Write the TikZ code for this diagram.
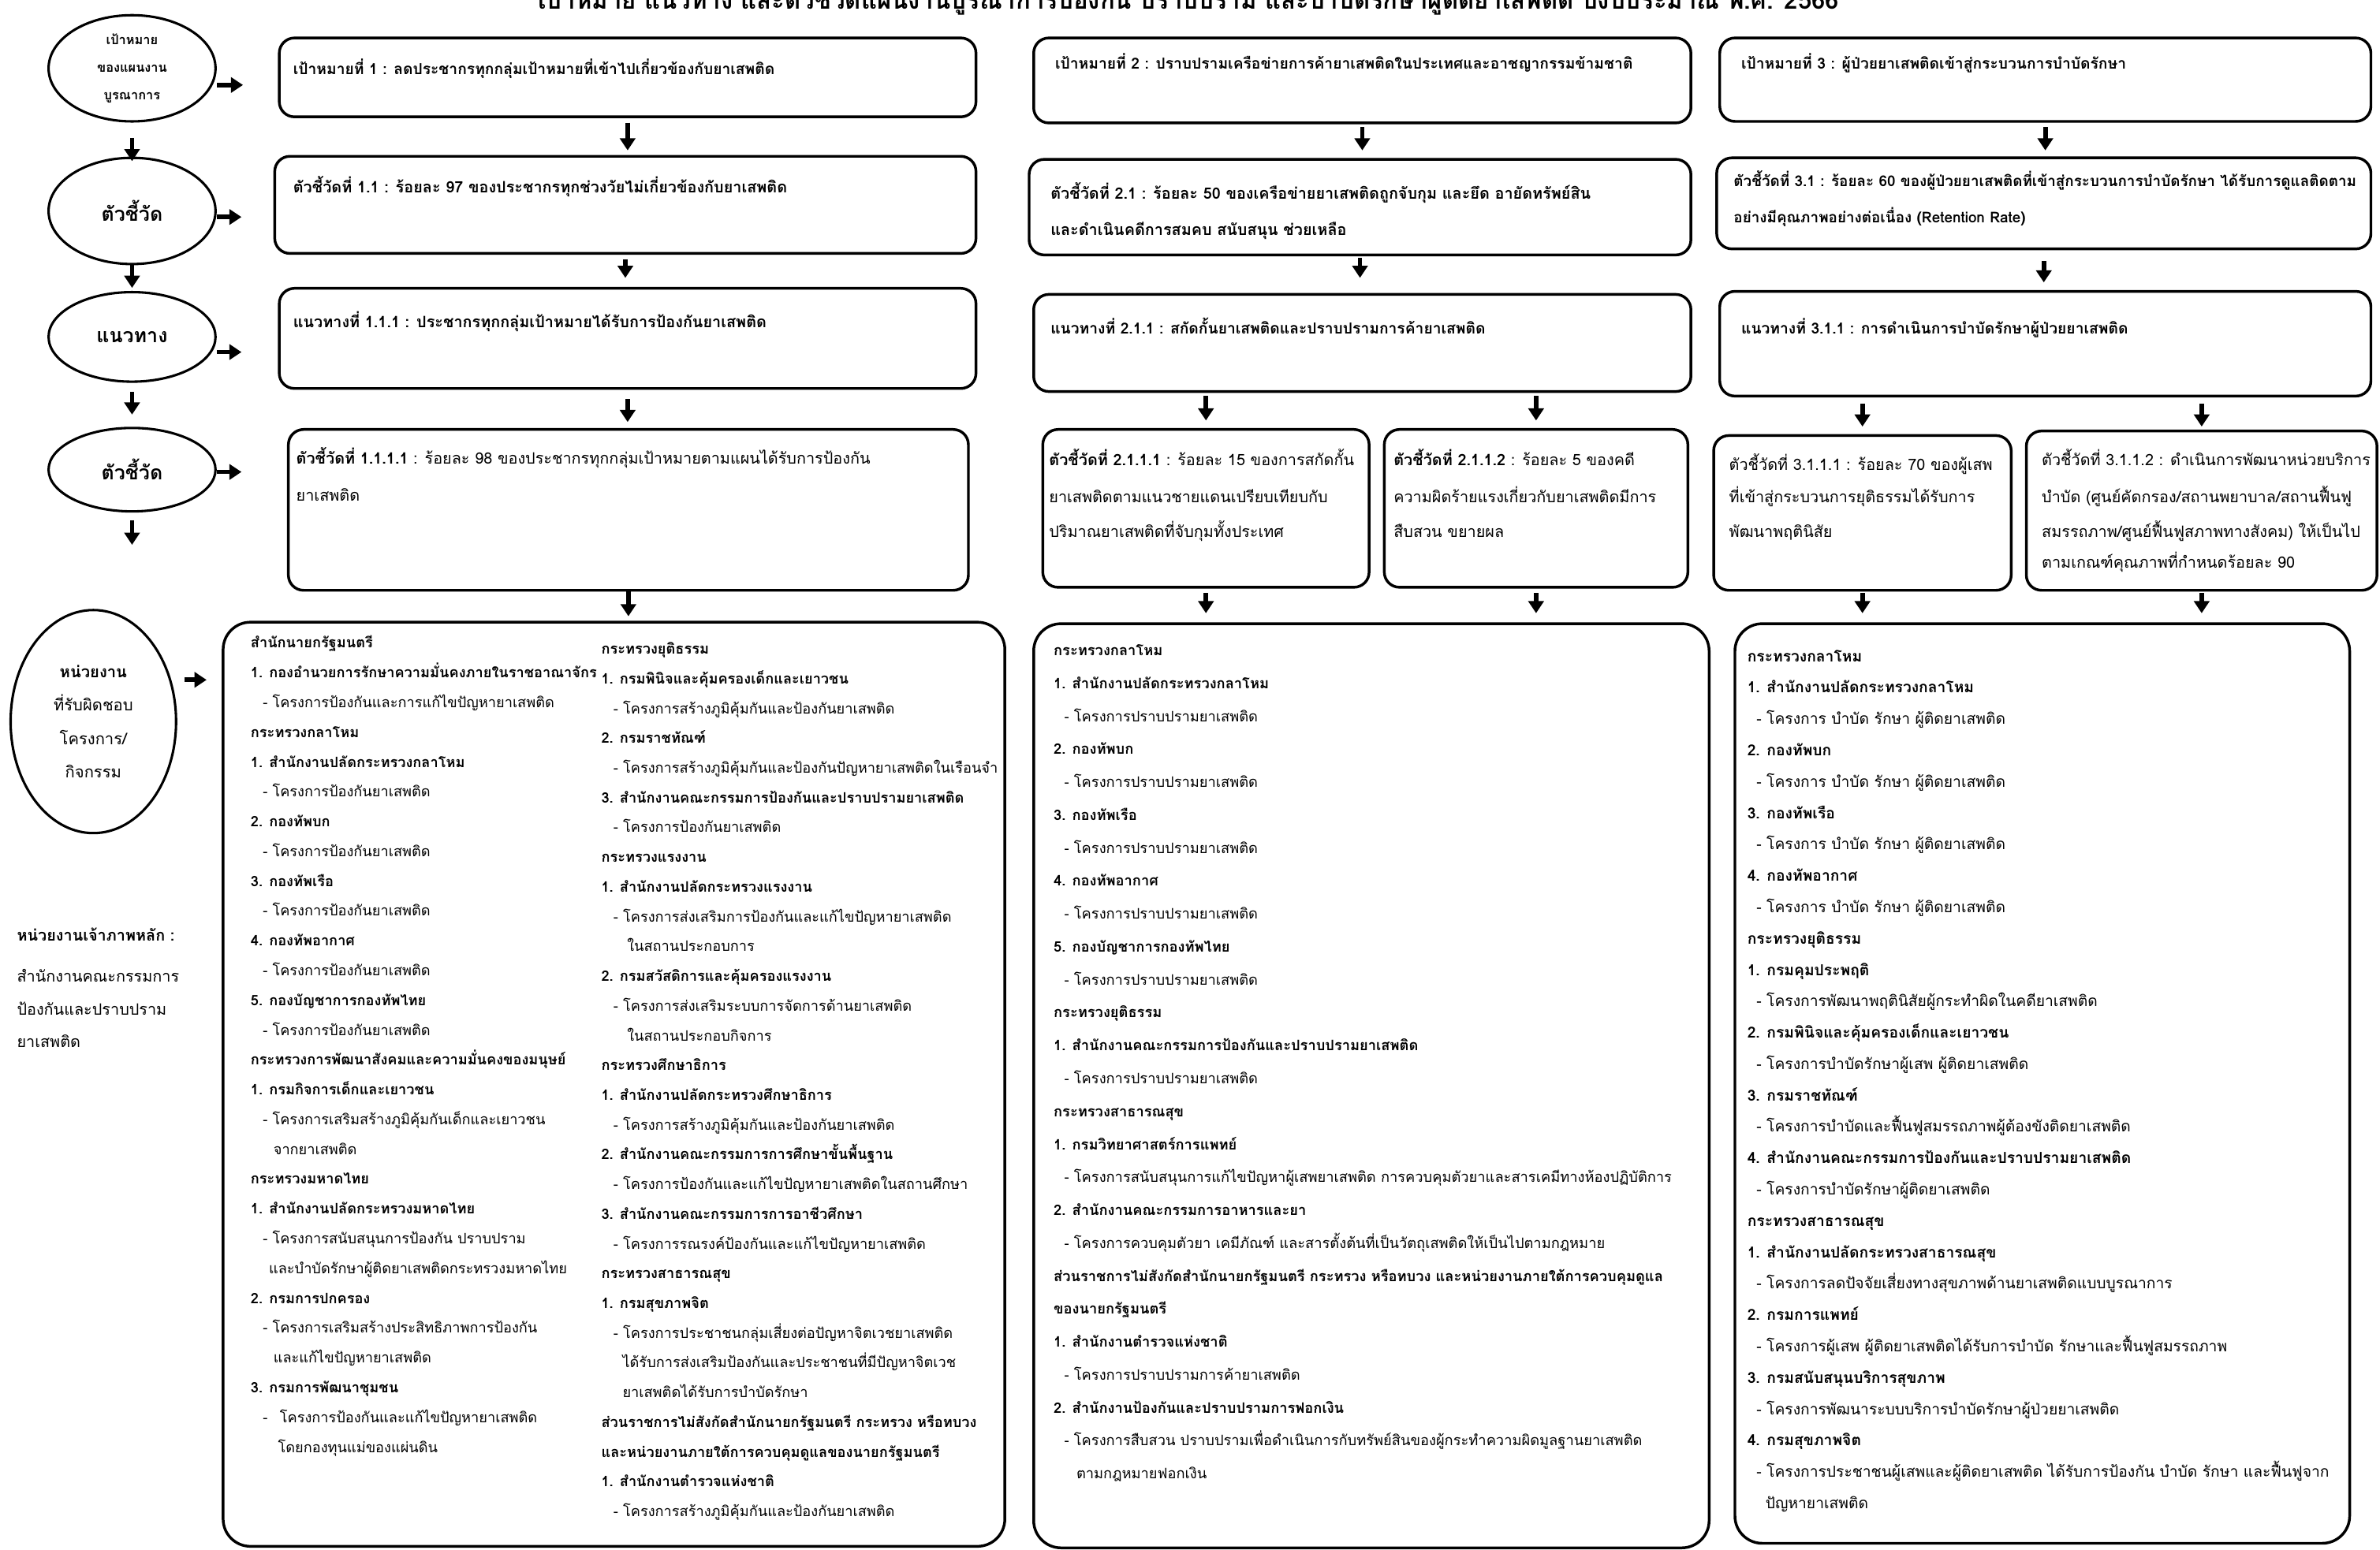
\documentclass[tikz,border=0pt]{standalone}
\usepackage{fontspec}
\usepackage{graphicx}
\setmainfont{Loma}[Script=Thai]
\usetikzlibrary{shapes.geometric,arrows.meta,calc}

\tikzset{
  topbox/.style={draw, line width=1.8pt, rounded corners=10pt, inner sep=0pt},
  panel/.style={draw, line width=1.8pt, rounded corners=18pt, inner sep=0pt},
  oval/.style={draw, ellipse, line width=1.6pt, inner sep=0pt, align=center},
  arr/.style={-{Triangle[length=8pt,width=10pt]}, line width=3pt},
  txt/.style={anchor=base west, inner sep=0pt, font=\fontsize{10}{12}\selectfont},
  txtl/.style={txt, font=\fontsize{10.3}{12}\selectfont},
  ln/.style={anchor=base west, inner sep=0pt},
}

\begin{document}
\begin{tikzpicture}[x=1pt,y=-1pt]
\useasboundingbox (0,0) rectangle (1568,1021);

% title, cut by the top edge
\node[anchor=base, inner sep=0pt] (title) at (783,6) {\resizebox{857pt}{!}{\bfseries เป้าหมาย แนวทาง และตัวชี้วัดแผนงานบูรณาการป้องกัน ปราบปราม และบำบัดรักษาผู้ติดยาเสพติด ปีงบประมาณ พ.ศ. 2566}};

% left column
\node[oval, minimum width=110pt, minimum height=70pt, font=\fontsize{8.5}{18}\selectfont\bfseries] (ovGoal) at (87,45) {เป้าหมาย\\ของแผนงาน\\บูรณาการ};
\node[oval, minimum width=110pt, minimum height=70pt, font=\fontsize{13}{15}\selectfont\bfseries] (ovInd) at (87,139) {ตัวชี้วัด};
\node[oval, minimum width=110pt, minimum height=59pt, font=\fontsize{13}{15}\selectfont\bfseries] (ovPath) at (87,222) {แนวทาง};
\node[oval, minimum width=110pt, minimum height=55pt, font=\fontsize{13}{15}\selectfont\bfseries] (ovSub) at (87,309.5) {ตัวชี้วัด};
\node[oval, minimum width=109pt, minimum height=147pt, font=\fontsize{10.5}{22}\selectfont] (ovUnit) at (61.5,475.5) {\textbf{หน่วยงาน}\\ที่รับผิดชอบ\\โครงการ/\\กิจกรรม};
\coordinate (ovSubEnd) at (87,359);

\node[txt, font=\fontsize{10.3}{12}\selectfont\bfseries] (host1) at (11,620) {หน่วยงานเจ้าภาพหลัก :};
\node[txtl] (host2) at (11,647) {สำนักงานคณะกรรมการ};
\node[txtl] (host3) at (11,669) {ป้องกันและปราบปราม};
\node[txtl] (host4) at (11,690) {ยาเสพติด};

\draw[arr, shorten <=10pt, shorten >=-3pt] (ovGoal) -- (ovInd);
\draw[arr, shorten >=2pt] (ovInd) -- (ovPath);
\draw[arr, shorten <=6pt, shorten >=8pt] (ovPath) -- (ovSub);
\draw[arr, shorten <=5pt] (ovSub) -- (ovSubEnd);

% goal 1
\node[topbox, minimum width=459pt, minimum height=52pt] (goal1) at (413.5,51) {};
\node[topbox, minimum width=462pt, minimum height=64pt] (ind11) at (412,135) {};
\node[topbox, minimum width=459pt, minimum height=66pt] (path111) at (413.5,223) {};
\node[topbox, minimum width=448pt, minimum height=106pt] (ind1111) at (414,336) {};

\node[txt] (goal1t) at (193,49) {\textbf{เป้าหมายที่ 1 : ลดประชากรทุกกลุ่มเป้าหมายที่เข้าไปเกี่ยวข้องกับยาเสพติด}};
\node[txtl] (ind11t) at (193,127) {\textbf{ตัวชี้วัดที่ 1.1 : ร้อยละ 97 ของประชากรทุกช่วงวัยไม่เกี่ยวข้องกับยาเสพติด}};
\node[txtl] (path111t) at (193,216) {\textbf{แนวทางที่ 1.1.1 : ประชากรทุกกลุ่มเป้าหมายได้รับการป้องกันยาเสพติด}};
\node[txtl] (ind1111a) at (195,306) {\textbf{ตัวชี้วัดที่ 1.1.1.1} : ร้อยละ 98 ของประชากรทุกกลุ่มเป้าหมายตามแผนได้รับการป้องกัน};
\node[txtl] (ind1111b) at (195,330) {ยาเสพติด};

% goal 2
\node[topbox, minimum width=433pt, minimum height=56pt] (goal2) at (897.5,53) {};
\node[topbox, minimum width=436pt, minimum height=63pt] (ind21) at (896,136.5) {};
\node[topbox, minimum width=433pt, minimum height=64pt] (path211) at (897.5,226) {};
\node[topbox, minimum width=215pt, minimum height=104pt] (ind2111) at (794.5,335) {};
\node[topbox, minimum width=200pt, minimum height=104pt] (ind2112) at (1012,335) {};

\node[txt] (goal2t) at (695,45.5) {\textbf{เป้าหมายที่ 2 : ปราบปรามเครือข่ายการค้ายาเสพติดในประเทศและอาชญากรรมข้ามชาติ}};
\node[txtl] (ind21a) at (692,131) {\textbf{ตัวชี้วัดที่ 2.1 : ร้อยละ 50 ของเครือข่ายยาเสพติดถูกจับกุม และยึด อายัดทรัพย์สิน}};
\node[txtl] (ind21b) at (692,155) {\textbf{และดำเนินคดีการสมคบ สนับสนุน ช่วยเหลือ}};
\node[txt] (path211t) at (692,220) {\textbf{แนวทางที่ 2.1.1 : สกัดกั้นยาเสพติดและปราบปรามการค้ายาเสพติด}};
\node[txtl] (ind2111a) at (691,307) {\textbf{ตัวชี้วัดที่ 2.1.1.1} : ร้อยละ 15 ของการสกัดกั้น};
\node[txtl] (ind2111b) at (691,331) {ยาเสพติดตามแนวชายแดนเปรียบเทียบกับ};
\node[txtl] (ind2111c) at (691,354) {ปริมาณยาเสพติดที่จับกุมทั้งประเทศ};
\node[txtl] (ind2112a) at (918,307) {\textbf{ตัวชี้วัดที่ 2.1.1.2} : ร้อยละ 5 ของคดี};
\node[txtl] (ind2112b) at (918,331) {ความผิดร้ายแรงเกี่ยวกับยาเสพติดมีการ};
\node[txtl] (ind2112c) at (918,354) {สืบสวน ขยายผล};

% goal 3
\node[topbox, minimum width=429pt, minimum height=55pt] (goal3) at (1347.5,52.5) {};
\node[topbox, minimum width=431pt, minimum height=60pt] (ind31) at (1346.5,134) {};
\node[topbox, minimum width=429pt, minimum height=69pt] (path311) at (1347.5,226.5) {};
\node[topbox, minimum width=196pt, minimum height=102pt] (ind3111) at (1227,338) {};
\node[topbox, minimum width=231pt, minimum height=105pt] (ind3112) at (1450.5,336.5) {};

\node[txt] (goal3t) at (1147,45.5) {\textbf{เป้าหมายที่ 3 : ผู้ป่วยยาเสพติดเข้าสู่กระบวนการบำบัดรักษา}};
\node[txt, font=\fontsize{9.8}{11}\selectfont] (ind31a) at (1142,123) {\textbf{ตัวชี้วัดที่ 3.1 : ร้อยละ 60 ของผู้ป่วยยาเสพติดที่เข้าสู่กระบวนการบำบัดรักษา ได้รับการดูแลติดตาม}};
\node[txt, font=\fontsize{9.8}{11}\selectfont] (ind31b) at (1142,147) {\textbf{อย่างมีคุณภาพอย่างต่อเนื่อง (Retention Rate)}};
\node[txt] (path311t) at (1147,220) {\textbf{แนวทางที่ 3.1.1 : การดำเนินการบำบัดรักษาผู้ป่วยยาเสพติด}};
\node[txtl] (ind3111a) at (1139,310) {ตัวชี้วัดที่ 3.1.1.1 : ร้อยละ 70 ของผู้เสพ};
\node[txtl] (ind3111b) at (1139,331) {ที่เข้าสู่กระบวนการยุติธรรมได้รับการ};
\node[txtl] (ind3111c) at (1139,354) {พัฒนาพฤตินิสัย};
\node[txtl] (ind3112a) at (1345,307) {ตัวชี้วัดที่ 3.1.1.2 : ดำเนินการพัฒนาหน่วยบริการ};
\node[txtl] (ind3112b) at (1345,331) {บำบัด (ศูนย์คัดกรอง/สถานพยาบาล/สถานฟื้นฟู};
\node[txtl] (ind3112c) at (1345,354) {สมรรถภาพ/ศูนย์ฟื้นฟูสภาพทางสังคม) ให้เป็นไป};
\node[txtl] (ind3112d) at (1345,374.5) {ตามเกณฑ์คุณภาพที่กำหนดร้อยละ 90};

% responsible units
\node[panel, minimum width=515pt, minimum height=609pt] (panel1) at (404.5,714.5) {};
\node[panel, minimum width=445pt, minimum height=609pt] (panel2) at (903.5,715.5) {};
\node[panel, minimum width=405pt, minimum height=606pt] (panel3) at (1345.5,714) {};

% arrows from the ovals
\draw[arr, shorten >=23pt] ($(ovGoal.east)+(0,11)$) -- ($(ovGoal.east -| goal1.west)+(0,11)$);
\draw[arr, shorten >=21pt] ($(ovInd.east)+(0,4)$) -- ($(ovInd.east -| ind11.west)+(0,4)$);
\draw[arr, shorten >=24pt] ($(ovPath.east)+(0,10)$) -- ($(ovPath.east -| path111.west)+(0,10)$);
\draw[arr, shorten >=30pt] ($(ovSub.east)+(0,1.5)$) -- ($(ovSub.east -| ind1111.west)+(0,1.5)$);
\draw[arr, shorten <=5pt, shorten >=10pt] ($(ovUnit.east)+(0,-27.5)$) -- ($(ovUnit.east -| panel1.west)+(0,-27.5)$);

% arrows down the boxes
\draw[arr, shorten <=3pt, shorten >=3pt] (goal1.south) -- (goal1.south |- ind11.north);
\draw[arr, shorten <=3pt, shorten >=6pt] (ind11.south) -- (ind11.south |- path111.north);
\draw[arr, shorten <=6pt, shorten >=4pt] (path111.south) -- (path111.south |- ind1111.north);
\draw[arr, shorten >=3pt] (ind1111.south) -- (ind1111.south |- panel1.north);

\draw[arr, shorten <=2pt, shorten >=5pt] (goal2.south) -- (goal2.south |- ind21.north);
\draw[arr, shorten <=1pt, shorten >=10pt] (ind21.south) -- (ind21.south |- path211.north);
\draw[arr, shorten <=2pt, shorten >=5pt] (path211.south -| ind2111.north) -- (ind2111.north);
\draw[arr, shorten <=2pt, shorten >=5pt] (path211.south -| ind2112.north) -- (ind2112.north);
\draw[arr, shorten <=3pt, shorten >=6pt] (ind2111.south) -- (ind2111.south |- panel2.north);
\draw[arr, shorten <=3pt, shorten >=6pt] (ind2112.south) -- (ind2112.south |- panel2.north);

\draw[arr, shorten <=3pt, shorten >=4pt] (goal3.south) -- (goal3.south |- ind31.north);
\draw[arr, shorten <=7pt, shorten >=5pt] (ind31.south) -- (ind31.south |- path311.north);
\draw[arr, shorten <=4pt, shorten >=5pt] (path311.south -| ind3111.north) -- (ind3111.north);
\draw[arr, shorten <=4pt, shorten >=2pt] (path311.south -| ind3112.north) -- (ind3112.north);
\draw[arr, shorten <=1pt, shorten >=6pt] (ind3111.south) -- (ind3111.south |- panel3.north);
\draw[arr, shorten <=1pt, shorten >=6pt] (ind3112.south) -- (ind3112.south |- panel3.north);

% panel 1, first column
\foreach \dx/\t [count=\i from 0] in {
  0/\textbf{สำนักนายกรัฐมนตรี},
  0/\textbf{1. กองอำนวยการรักษาความมั่นคงภายในราชอาณาจักร},
  8/- โครงการป้องกันและการแก้ไขปัญหายาเสพติด,
  0/\textbf{กระทรวงกลาโหม},
  0/\textbf{1. สำนักงานปลัดกระทรวงกลาโหม},
  8/- โครงการป้องกันยาเสพติด,
  0/\textbf{2. กองทัพบก},
  8/- โครงการป้องกันยาเสพติด,
  0/\textbf{3. กองทัพเรือ},
  8/- โครงการป้องกันยาเสพติด,
  0/\textbf{4. กองทัพอากาศ},
  8/- โครงการป้องกันยาเสพติด,
  0/\textbf{5. กองบัญชาการกองทัพไทย},
  8/- โครงการป้องกันยาเสพติด,
  0/\textbf{กระทรวงการพัฒนาสังคมและความมั่นคงของมนุษย์},
  0/\textbf{1. กรมกิจการเด็กและเยาวชน},
  8/- โครงการเสริมสร้างภูมิคุ้มกันเด็กและเยาวชน,
  15/จากยาเสพติด,
  0/\textbf{กระทรวงมหาดไทย},
  0/\textbf{1. สำนักงานปลัดกระทรวงมหาดไทย},
  8/- โครงการสนับสนุนการป้องกัน ปราบปราม,
  12/และบำบัดรักษาผู้ติดยาเสพติดกระทรวงมหาดไทย,
  0/\textbf{2. กรมการปกครอง},
  8/- โครงการเสริมสร้างประสิทธิภาพการป้องกัน,
  15/และแก้ไขปัญหายาเสพติด,
  0/\textbf{3. กรมการพัฒนาชุมชน},
  8/-\hspace{8pt}โครงการป้องกันและแก้ไขปัญหายาเสพติด,
  18/โดยกองทุนแม่ของแผ่นดิน}
  \node[ln, font=\fontsize{9.45}{12}\selectfont] (pa\i) at ({165+\dx},{427+\i*19.63}) {\t};

% panel 1, second column
\foreach \dx/\t [count=\i from 0] in {
  0/\textbf{กระทรวงยุติธรรม},
  0/\textbf{1. กรมพินิจและคุ้มครองเด็กและเยาวชน},
  8/- โครงการสร้างภูมิคุ้มกันและป้องกันยาเสพติด,
  0/\textbf{2. กรมราชทัณฑ์},
  8/- โครงการสร้างภูมิคุ้มกันและป้องกันปัญหายาเสพติดในเรือนจำ,
  0/\textbf{3. สำนักงานคณะกรรมการป้องกันและปราบปรามยาเสพติด},
  8/- โครงการป้องกันยาเสพติด,
  0/\textbf{กระทรวงแรงงาน},
  0/\textbf{1. สำนักงานปลัดกระทรวงแรงงาน},
  8/- โครงการส่งเสริมการป้องกันและแก้ไขปัญหายาเสพติด,
  17/ในสถานประกอบการ,
  0/\textbf{2. กรมสวัสดิการและคุ้มครองแรงงาน},
  8/- โครงการส่งเสริมระบบการจัดการด้านยาเสพติด,
  17/ในสถานประกอบกิจการ,
  0/\textbf{กระทรวงศึกษาธิการ},
  0/\textbf{1. สำนักงานปลัดกระทรวงศึกษาธิการ},
  8/- โครงการสร้างภูมิคุ้มกันและป้องกันยาเสพติด,
  0/\textbf{2. สำนักงานคณะกรรมการการศึกษาขั้นพื้นฐาน},
  8/- โครงการป้องกันและแก้ไขปัญหายาเสพติดในสถานศึกษา,
  0/\textbf{3. สำนักงานคณะกรรมการการอาชีวศึกษา},
  8/- โครงการรณรงค์ป้องกันและแก้ไขปัญหายาเสพติด,
  0/\textbf{กระทรวงสาธารณสุข},
  0/\textbf{1. กรมสุขภาพจิต},
  8/- โครงการประชาชนกลุ่มเสี่ยงต่อปัญหาจิตเวชยาเสพติด,
  14/ได้รับการส่งเสริมป้องกันและประชาชนที่มีปัญหาจิตเวช,
  14/ยาเสพติดได้รับการบำบัดรักษา,
  0/\textbf{ส่วนราชการไม่สังกัดสำนักนายกรัฐมนตรี กระทรวง หรือทบวง},
  0/\textbf{และหน่วยงานภายใต้การควบคุมดูแลของนายกรัฐมนตรี},
  0/\textbf{1. สำนักงานตำรวจแห่งชาติ},
  8/- โครงการสร้างภูมิคุ้มกันและป้องกันยาเสพติด}
  \node[ln, font=\fontsize{9.45}{12}\selectfont] (pb\i) at ({396+\dx},{431+\i*19.6}) {\t};

% panel 2
\foreach \dx/\t [count=\i from 0] in {
  0/\textbf{กระทรวงกลาโหม},
  0/\textbf{1. สำนักงานปลัดกระทรวงกลาโหม},
  7/- โครงการปราบปรามยาเสพติด,
  0/\textbf{2. กองทัพบก},
  7/- โครงการปราบปรามยาเสพติด,
  0/\textbf{3. กองทัพเรือ},
  7/- โครงการปราบปรามยาเสพติด,
  0/\textbf{4. กองทัพอากาศ},
  7/- โครงการปราบปรามยาเสพติด,
  0/\textbf{5. กองบัญชาการกองทัพไทย},
  7/- โครงการปราบปรามยาเสพติด,
  0/\textbf{กระทรวงยุติธรรม},
  0/\textbf{1. สำนักงานคณะกรรมการป้องกันและปราบปรามยาเสพติด},
  7/- โครงการปราบปรามยาเสพติด,
  0/\textbf{กระทรวงสาธารณสุข},
  0/\textbf{1. กรมวิทยาศาสตร์การแพทย์},
  7/- โครงการสนับสนุนการแก้ไขปัญหาผู้เสพยาเสพติด การควบคุมตัวยาและสารเคมีทางห้องปฏิบัติการ,
  0/\textbf{2. สำนักงานคณะกรรมการอาหารและยา},
  7/- โครงการควบคุมตัวยา เคมีภัณฑ์ และสารตั้งต้นที่เป็นวัตถุเสพติดให้เป็นไปตามกฎหมาย,
  0/\textbf{ส่วนราชการไม่สังกัดสำนักนายกรัฐมนตรี กระทรวง หรือทบวง และหน่วยงานภายใต้การควบคุมดูแล},
  0/\textbf{ของนายกรัฐมนตรี},
  0/\textbf{1. สำนักงานตำรวจแห่งชาติ},
  7/- โครงการปราบปรามการค้ายาเสพติด,
  0/\textbf{2. สำนักงานป้องกันและปราบปรามการฟอกเงิน},
  7/- โครงการสืบสวน ปราบปรามเพื่อดำเนินการกับทรัพย์สินของผู้กระทำความผิดมูลฐานยาเสพติด,
  15/ตามกฎหมายฟอกเงิน}
  \node[ln, font=\fontsize{9.5}{12}\selectfont] (pc\i) at ({694+\dx},{432+\i*21.7}) {\t};

% panel 3
\foreach \dx/\t [count=\i from 0] in {
  0/\textbf{กระทรวงกลาโหม},
  0/\textbf{1. สำนักงานปลัดกระทรวงกลาโหม},
  6/- โครงการ บำบัด รักษา ผู้ติดยาเสพติด,
  0/\textbf{2. กองทัพบก},
  6/- โครงการ บำบัด รักษา ผู้ติดยาเสพติด,
  0/\textbf{3. กองทัพเรือ},
  6/- โครงการ บำบัด รักษา ผู้ติดยาเสพติด,
  0/\textbf{4. กองทัพอากาศ},
  6/- โครงการ บำบัด รักษา ผู้ติดยาเสพติด,
  0/\textbf{กระทรวงยุติธรรม},
  0/\textbf{1. กรมคุมประพฤติ},
  6/- โครงการพัฒนาพฤตินิสัยผู้กระทำผิดในคดียาเสพติด,
  0/\textbf{2. กรมพินิจและคุ้มครองเด็กและเยาวชน},
  6/- โครงการบำบัดรักษาผู้เสพ ผู้ติดยาเสพติด,
  0/\textbf{3. กรมราชทัณฑ์},
  6/- โครงการบำบัดและฟื้นฟูสมรรถภาพผู้ต้องขังติดยาเสพติด,
  0/\textbf{4. สำนักงานคณะกรรมการป้องกันและปราบปรามยาเสพติด},
  6/- โครงการบำบัดรักษาผู้ติดยาเสพติด,
  0/\textbf{กระทรวงสาธารณสุข},
  0/\textbf{1. สำนักงานปลัดกระทรวงสาธารณสุข},
  6/- โครงการลดปัจจัยเสี่ยงทางสุขภาพด้านยาเสพติดแบบบูรณาการ,
  0/\textbf{2. กรมการแพทย์},
  6/- โครงการผู้เสพ ผู้ติดยาเสพติดได้รับการบำบัด รักษาและฟื้นฟูสมรรถภาพ,
  0/\textbf{3. กรมสนับสนุนบริการสุขภาพ},
  6/- โครงการพัฒนาระบบบริการบำบัดรักษาผู้ป่วยยาเสพติด,
  0/\textbf{4. กรมสุขภาพจิต},
  6/- โครงการประชาชนผู้เสพและผู้ติดยาเสพติด ได้รับการป้องกัน บำบัด รักษา และฟื้นฟูจาก,
  12/ปัญหายาเสพติด}
  \node[ln, font=\fontsize{10}{12}\selectfont] (pd\i) at ({1151+\dx},{436+\i*20.67}) {\t};

\end{tikzpicture}
\end{document}
